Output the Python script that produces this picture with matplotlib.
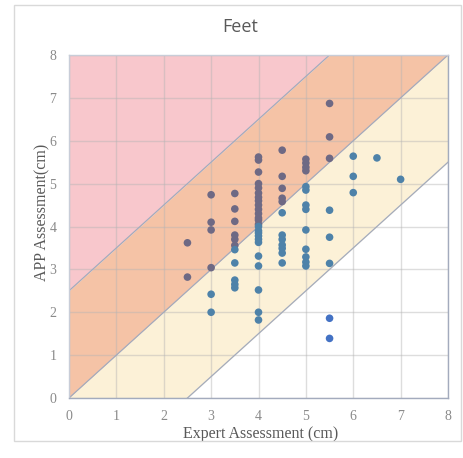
import numpy as np
import matplotlib.pyplot as plt
from matplotlib.patches import Rectangle

# expert reading -> list of app readings at that expert value
expert_vals = [2.5, 3, 3.5, 4, 4.5, 5, 5.5, 6, 6.5, 7]
app_vals = [
    [3.62, 2.82],
    [4.74, 4.10, 3.92, 3.04, 2.42, 2.00],
    [4.77, 4.41, 4.12, 3.80, 3.70, 3.56, 3.46, 3.15, 2.75, 2.65, 2.57],
    [5.62, 5.55, 5.27, 5.00, 4.90, 4.78, 4.68, 4.60, 4.50, 4.40, 4.30, 4.20,
     4.15, 4.05, 4.00, 3.90, 3.85, 3.78, 3.70, 3.63, 3.31, 3.08, 2.52, 2.00, 1.82],
    [5.78, 5.17, 4.89, 4.66, 4.58, 4.32, 3.80, 3.70, 3.57, 3.49, 3.38, 3.15],
    [5.57, 5.48, 5.38, 5.30, 4.93, 4.85, 4.50, 4.40, 3.92, 3.47, 3.29, 3.17, 3.08],
    [6.87, 6.09, 5.59, 4.38, 3.75, 3.14, 1.86, 1.39],
    [5.64, 5.17, 4.79],
    [5.60],
    [5.10],
]
band = 2.5

x = np.concatenate([[e] * len(a) for e, a in zip(expert_vals, app_vals)])
y = np.concatenate(app_vals)

d = y - x
colors = np.where(d > 0, '#6e6984', np.where(d > -band, '#4e82a9', '#4472c4'))

fig = plt.figure(figsize=(4.63, 4.58), dpi=100)
ax = fig.add_axes([69 / 463, 1 - 398 / 458, (448 - 69) / 463, (398 - 55) / 458])

# outer chart frame
fig.patches.append(Rectangle((14 / 463, 1 - 441 / 458), 447 / 463, 436 / 458,
                             transform=fig.transFigure, fill=False,
                             edgecolor='#d9d9d9', linewidth=1))

xx = np.linspace(0, 8, 200)
edge = '#a3abbd'
ax.fill_between(xx, xx + band, 8, color='#f8c7cc', zorder=0, linewidth=0)
ax.fill_between(xx, xx, np.minimum(xx + band, 8), color='#f5c3a6', zorder=0, linewidth=0)
ax.fill_between(xx, np.maximum(xx - band, 0), np.minimum(xx, 8), color='#fcf1d7', zorder=0, linewidth=0)
for off in (band, 0, -band):
    ax.plot(xx, xx + off, color=edge, linewidth=0.9, zorder=1)

ax.set_xlim(0, 8)
ax.set_ylim(0, 8)
ax.set_xticks(range(0, 9))
ax.set_yticks(range(0, 9))
ax.grid(True, color='#b5b5b5', alpha=0.45, linewidth=1, zorder=0.5)
ax.set_axisbelow(True)

ax.scatter(x, y, s=30, c=colors, edgecolors='none', zorder=3)

for s in ax.spines.values():
    s.set_color('#c8cdd8')
    s.set_linewidth(1)
ax.spines['bottom'].set_color('#a3abbd')
ax.spines['right'].set_color('#a3abbd')

ax.tick_params(length=0, pad=9, labelsize=10, labelcolor='#8a8a8a')
for lab in ax.get_xticklabels() + ax.get_yticklabels():
    lab.set_fontfamily('Liberation Serif')

ax.set_xlabel('Expert Assessment (cm)', fontsize=11.5, color='#595959',
              fontfamily='Liberation Serif')
ax.set_ylabel('APP Assessment(cm)', fontsize=11.5, color='#595959',
              fontfamily='Liberation Serif')
ax.xaxis.set_label_coords(0.505, -0.083)
ax.yaxis.set_label_coords(-0.05, 0.54)
fig.text(240 / 463, 1 - 27 / 458, 'Feet', ha='center', va='center',
         fontsize=13, color='#595959', fontfamily='Open Sans')

fig.savefig('out.png', dpi=100)
